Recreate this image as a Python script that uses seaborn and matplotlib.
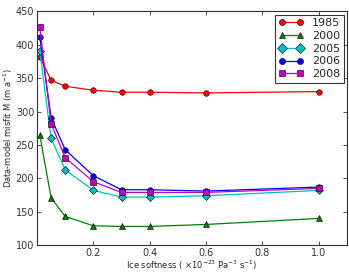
import numpy as np
import pandas as pd
import matplotlib
matplotlib.use('Agg')
import matplotlib.pyplot as plt
import seaborn as sns

softness = [0.01, 0.05, 0.1, 0.2, 0.3, 0.4, 0.6, 1.0]
misfit_1985 = [382, 347, 338, 332, 329, 329, 328, 330]
misfit_2000 = [265, 171, 143, 129, 128, 128, 131, 140]
misfit_2005 = [391, 260, 213, 182, 172, 172, 174, 182]
misfit_2006 = [412, 291, 243, 204, 183, 183, 181, 187]
misfit_2008 = [426, 282, 231, 195, 179, 179, 179, 185]

years = ['1985', '2000', '2005', '2006', '2008']
series = [misfit_1985, misfit_2000, misfit_2005, misfit_2006, misfit_2008]
colors = ['red', 'green', 'c', 'blue', 'm']
markers = ['o', '^', 'D', 'o', 's']
msizes = [4, 4, 4.5, 4, 4]

sns.set_style('ticks')
plt.rcParams['font.family'] = ['DejaVu Sans']

fig = plt.figure(figsize=(3.49, 2.73), dpi=100)
ax = fig.add_axes([0.106, 0.102, 0.888, 0.856])

for yr, vals, c, m, ms in zip(years, series, colors, markers, msizes):
    df = pd.DataFrame({'x': softness, 'y': vals})
    sns.lineplot(data=df, x='x', y='y', color=c, marker=m, markersize=ms,
                 markeredgecolor='black', markeredgewidth=0.4, linewidth=0.9,
                 label=yr, ax=ax)

ax.set_xlim(0, 1.1)
ax.set_ylim(100, 450)
ax.set_xticks([0.2, 0.4, 0.6, 0.8, 1.0])
ax.set_yticks(np.arange(100, 451, 50))
ax.tick_params(direction='in', top=True, right=True, labelsize=7,
               length=3, width=0.6, colors='#333333', pad=2)
for s in ax.spines.values():
    s.set_linewidth(0.8)
    s.set_color('#333333')
ax.set_xlabel(r'Ice softness ( $\times10^{-23}$ Pa$^{-3}$ s$^{-1}$)', fontsize=6, labelpad=0.5)
ax.set_ylabel(r'Data-model misfit M (m a$^{-1}$)', fontsize=6, labelpad=0.5)

leg = ax.legend(loc='upper right', fontsize=8, numpoints=2, frameon=True,
                fancybox=False, borderaxespad=0.3, handlelength=2.2,
                labelspacing=0.25, borderpad=0.3, markerscale=1.1)
leg.get_frame().set_edgecolor('black')
leg.get_frame().set_linewidth(0.8)

fig.savefig('out.png', dpi=100)
